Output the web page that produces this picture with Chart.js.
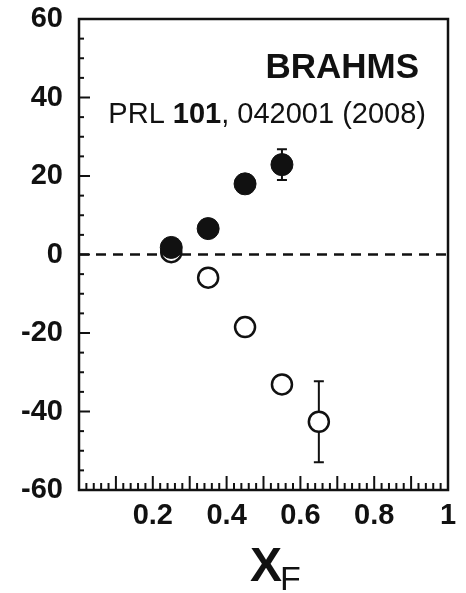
<!DOCTYPE html>
<html lang="en">
<head>
    <meta charset="UTF-8">
    <title>BRAHMS A_N vs xF</title>
    <script src="https://cdn.jsdelivr.net/npm/chart.js@4.4.1/dist/chart.umd.min.js"></script>
    <style>
        html, body {
            margin: 0;
            padding: 0;
            background: #fff;
        }
        #box {
            width: 466px;
            height: 593px;
        }
    </style>
</head>
<body>
    <div id="box"><canvas id="myChart"></canvas></div>

    <script>
        // data
        const xF = [0.25, 0.35, 0.45, 0.55, 0.65];
        const filledAN = [1.8, 6.6, 18.0, 22.9];
        const filledErr = [0, 0, 0, 3.9];
        const openAN = [0.6, -5.9, -18.5, -33.1, -42.6];
        const openErr = [0, 0, 0, 0, 10.3];
        const zeroLineX = [0, 1];
        const yTicks = [-60, -40, -20, 0, 20, 40, 60];
        const xTicks = [0.2, 0.4, 0.6, 0.8, 1];

        const FONT = "'Liberation Sans', Arial, sans-serif";
        const INK = '#111';

        // error bars, drawn below the markers
        const errorBars = {
            id: 'errorBars',
            beforeDatasetsDraw(chart) {
                const ctx = chart.ctx;
                const xs = chart.scales.x, ys = chart.scales.y;
                const sets = [[filledAN, filledErr], [openAN, openErr]];
                ctx.save();
                ctx.strokeStyle = INK;
                ctx.lineWidth = 2;
                sets.forEach(function(s) {
                    s[0].forEach(function(v, i) {
                        const e = s[1][i];
                        if (!e) return;
                        const px = xs.getPixelForValue(xF[i]);
                        const top = ys.getPixelForValue(v + e);
                        const bot = ys.getPixelForValue(v - e);
                        ctx.beginPath();
                        ctx.moveTo(px, top); ctx.lineTo(px, bot);
                        ctx.moveTo(px - 5, top); ctx.lineTo(px + 5, top);
                        ctx.moveTo(px - 5, bot); ctx.lineTo(px + 5, bot);
                        ctx.stroke();
                    });
                });
                ctx.restore();
            }
        };

        // frame, inward ticks, texts
        const frame = {
            id: 'frame',
            afterDraw(chart) {
                const ctx = chart.ctx;
                const a = chart.chartArea;
                const xs = chart.scales.x, ys = chart.scales.y;
                ctx.save();
                ctx.strokeStyle = INK;
                ctx.lineWidth = 2;
                // x ticks every 0.02, major every 0.1
                for (let k = 1; k < 50; k++) {
                    const px = xs.getPixelForValue(k / 50);
                    const len = (k % 5 === 0) ? 14 : 7;
                    ctx.beginPath();
                    ctx.moveTo(px, a.bottom); ctx.lineTo(px, a.bottom - len);
                    ctx.stroke();
                }
                // y ticks every 5, major every 20
                for (let v = -55; v < 60; v += 5) {
                    const py = ys.getPixelForValue(v);
                    const len = (v % 20 === 0) ? 11 : 5;
                    ctx.beginPath();
                    ctx.moveTo(a.left, py); ctx.lineTo(a.left + len, py);
                    ctx.stroke();
                }
                ctx.lineWidth = 2.5;
                ctx.strokeRect(a.left, a.top, a.right - a.left, a.bottom - a.top);

                // labels in the corner
                ctx.fillStyle = INK;
                ctx.textBaseline = 'alphabetic';
                ctx.textAlign = 'right';
                ctx.font = 'bold 35px ' + FONT;
                ctx.fillText('BRAHMS', 419, 78);

                const parts = [['PRL ', 'normal'], ['101', 'bold'], [', 042001 (2008)', 'normal']];
                ctx.textAlign = 'left';
                let w = 0;
                parts.forEach(function(p) {
                    ctx.font = p[1] + ' 29px ' + FONT;
                    w += ctx.measureText(p[0]).width;
                });
                let x = 426 - w;
                parts.forEach(function(p) {
                    ctx.font = p[1] + ' 29px ' + FONT;
                    ctx.fillText(p[0], x, 123);
                    x += ctx.measureText(p[0]).width;
                });

                // axis title x_F
                ctx.font = 'bold 48px ' + FONT;
                ctx.fillText('X', 250, 581);
                const xw = ctx.measureText('X').width;
                ctx.font = 'normal 34px ' + FONT;
                ctx.fillText('F', 250 + xw - 2, 590);
                ctx.restore();
            }
        };

        const ctx = document.getElementById('myChart').getContext('2d');
        new Chart(ctx, {
            type: 'scatter',
            data: {
                datasets: [
                    {
                        label: 'filled',
                        data: filledAN.map((v, i) => ({ x: xF[i], y: v })),
                        backgroundColor: INK,
                        borderColor: INK,
                        borderWidth: 1,
                        pointRadius: 11,
                        pointHoverRadius: 11
                    },
                    {
                        label: 'open',
                        data: openAN.map((v, i) => ({ x: xF[i], y: v })),
                        backgroundColor: '#fff',
                        borderColor: INK,
                        borderWidth: 2.5,
                        pointRadius: 10,
                        pointHoverRadius: 10
                    },
                    {
                        type: 'line',
                        label: 'zero',
                        data: zeroLineX.map(x => ({ x: x, y: 0 })),
                        borderColor: INK,
                        borderWidth: 2.5,
                        borderDash: [10, 7],
                        pointRadius: 0,
                        fill: false
                    }
                ]
            },
            options: {
                responsive: true,
                maintainAspectRatio: false,
                animation: false,
                layout: {
                    padding: 0
                },
                plugins: {
                    legend: { display: false },
                    tooltip: { enabled: false }
                },
                scales: {
                    x: {
                        type: 'linear',
                        min: 0,
                        max: 1,
                        afterFit: function(scale) {
                            scale.height = 103;
                            scale.paddingLeft = 0;
                            scale.paddingRight = 18;
                        },
                        afterBuildTicks: function(scale) {
                            scale.ticks = xTicks.map(v => ({ value: v }));
                        },
                        grid: { display: false, drawTicks: false },
                        border: { display: false },
                        ticks: {
                            padding: 9,
                            color: INK,
                            font: { family: FONT, size: 29, weight: 'bold' },
                            maxRotation: 0,
                            callback: v => String(v)
                        }
                    },
                    y: {
                        type: 'linear',
                        min: -60,
                        max: 60,
                        afterFit: function(scale) {
                            scale.width = 79;
                            scale.paddingTop = 19;
                            scale.paddingBottom = 0;
                        },
                        afterBuildTicks: function(scale) {
                            scale.ticks = yTicks.map(v => ({ value: v }));
                        },
                        grid: { display: false, drawTicks: false },
                        border: { display: false },
                        ticks: {
                            padding: 16,
                            color: INK,
                            font: { family: FONT, size: 29, weight: 'bold' },
                            callback: v => String(v)
                        }
                    }
                }
            },
            plugins: [errorBars, frame]
        });
    </script>
</body>
</html>
